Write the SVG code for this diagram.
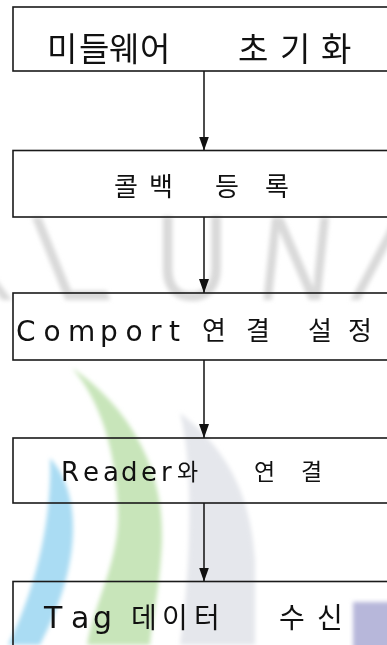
<svg xmlns="http://www.w3.org/2000/svg" width="387" height="645" viewBox="0 0 387 645">
  <style>
    .box { fill: none; stroke: #1a1a1a; stroke-width: 1.6; }
    .ko { font-family: "Noto Sans CJK KR", "Liberation Sans", sans-serif; fill: #111; }
    .la { font-family: "DejaVu Sans", "Liberation Sans", sans-serif; fill: #111; }
    .edge { stroke: #111; stroke-width: 1.5; fill: none; marker-end: url(#arrow); }
    .wm { font-family: "Liberation Sans", sans-serif; font-size: 120px; fill: #d9d9d9; }
  </style>
  <defs>
    <marker id="arrow" viewBox="0 0 14 10" refX="14" refY="5" markerWidth="14" markerHeight="10" markerUnits="userSpaceOnUse" orient="auto">
      <path d="M0,0 L14,5 L0,10 Z" fill="#111"/>
    </marker>
    <filter id="soft" x="-20%" y="-20%" width="140%" height="140%">
      <feGaussianBlur stdDeviation="2"/>
    </filter>
  </defs>
  <rect width="387" height="645" fill="#ffffff"/>

  <g id="watermark" filter="url(#soft)">
    <text class="wm" transform="translate(-56,300) skewX(22) scale(0.85,1)">A</text>
    <text class="wm" transform="translate(57,300) skewX(22) scale(0.85,1)">L</text>
    <text class="wm" transform="translate(155,300) scale(0.85,1)">U</text>
    <text class="wm" transform="translate(255,300) skewX(-6) scale(0.85,1)">N</text>
    <text class="wm" transform="translate(341,300) skewX(-28) scale(0.85,1)">I</text>
    <path d="M50 458 C80 490 85 560 40 645 L8 645 C40 580 52 510 50 458 Z" fill="#aadcf3"/>
    <path d="M72 368 C120 400 165 460 162 540 C160 590 152 620 150 645 L87 645 C95 600 120 560 118 510 C116 450 100 400 72 368 Z" fill="#c8e5ba"/>
    <path d="M180 413 C215 440 250 480 255 560 L255 645 L180 645 C190 580 195 470 180 413 Z" fill="#e5e7ec"/>
    <rect x="353" y="602" width="40" height="50" fill="#b7b7da"/>
  </g>

  <g id="edges">
    <line class="edge" x1="204" y1="71" x2="204" y2="150.5"/>
    <line class="edge" x1="204" y1="217" x2="204" y2="293"/>
    <line class="edge" x1="204" y1="360" x2="204" y2="438"/>
    <line class="edge" x1="204" y1="503" x2="204" y2="581.5"/>
  </g>

  <g id="n1">
    <rect class="box" x="13" y="7" width="400" height="64"/>
    <text class="ko" y="61" font-size="33"><tspan x="47 79 109 140">미들웨어</tspan> <tspan x="238 280 321">초기화</tspan></text>
  </g>
  <g id="n2">
    <rect class="box" x="13" y="150.5" width="400" height="66.5"/>
    <text class="ko" y="196" font-size="26"><tspan x="114 149">콜백</tspan> <tspan x="215 265">등록</tspan></text>
  </g>
  <g id="n3">
    <rect class="box" x="13" y="293" width="400" height="67"/>
    <text y="341"><tspan class="la" font-size="28" x="16 43.5 68 100 125.5 150 169">Comport</tspan> <tspan class="ko" font-size="26" y="340" x="202 246">연결</tspan> <tspan class="ko" font-size="26" y="340" x="308 348">설정</tspan></text>
  </g>
  <g id="n4">
    <rect class="box" x="13" y="438" width="400" height="65"/>
    <text y="481"><tspan class="la" font-size="26" x="61 83 103 121 141 161">Reader</tspan><tspan class="ko" font-size="23" y="480" x="177">와</tspan> <tspan class="ko" font-size="23" y="480" x="254 301">연결</tspan></text>
  </g>
  <g id="n5">
    <rect class="box" x="13" y="581.5" width="400" height="70"/>
    <text y="628"><tspan class="la" font-size="30" x="44 71 93">Tag</tspan> <tspan class="ko" font-size="28" x="131 162 194">데이터</tspan> <tspan class="ko" font-size="28" x="279 317">수신</tspan></text>
  </g>
</svg>
